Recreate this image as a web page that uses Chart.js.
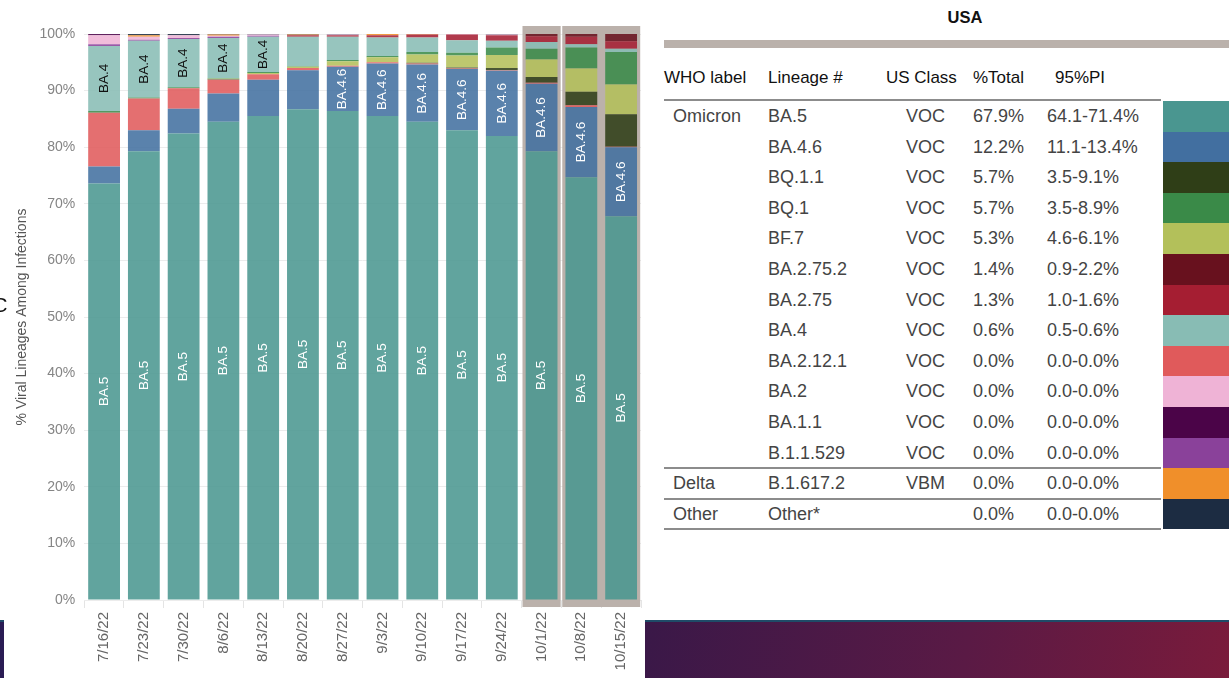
<!DOCTYPE html>
<html>
<head>
<meta charset="utf-8">
<script src="https://cdn.jsdelivr.net/npm/chart.js@4.4.0/dist/chart.umd.min.js"></script>
<style>
  body { margin: 0; width: 1229px; height: 678px; overflow: hidden; background: #fff;
         position: relative; font-family: "Liberation Sans", Arial, sans-serif; }
  #chartBox { position: absolute; left: 0; top: 0; width: 645px; height: 678px; }
  .t { position: absolute; white-space: nowrap; }
  .cell { position: absolute; white-space: nowrap; height: 30.6px; line-height: 30.6px; font-size: 18px; color: #444; }
  .hdr { position: absolute; white-space: nowrap; font-size: 17px; color: #111; top: 68px; }
  .rule { position: absolute; left: 664px; width: 497px; height: 2px; background: #8c8c8c; }
  .sw { position: absolute; left: 1163px; width: 66px; height: 30.6px; }
</style>
</head>
<body>
<div id="chartBox"><canvas id="chart1" width="645" height="678"></canvas></div>
<div class="t" style="left:-7px;top:294px;font-size:20px;color:#111;">C</div>
<div id="table"></div>
<div style="position:absolute;left:645px;top:620px;width:584px;height:58px;border-top:2px solid #1f4b68;background:linear-gradient(100deg,#3a1848 0%,#5a1a45 55%,#7a1b3b 100%);"></div>
<div style="position:absolute;left:0;top:620px;width:4px;height:58px;border-top:2px solid #1f4b68;background:#2a1c54;"></div>

<script>
// weekly proportions (%)
const weeks = ['7/16/22','7/23/22','7/30/22','8/6/22','8/13/22','8/20/22','8/27/22',
               '9/3/22','9/10/22','9/17/22','9/24/22','10/1/22','10/8/22','10/15/22'];
const ba5      = [73.6, 79.3, 82.4, 84.5, 85.5, 86.7, 86.4, 85.5, 84.5, 83.0, 82.0, 79.3, 74.7, 67.8];
const ba46     = [3.0, 3.7, 4.4, 5.0, 6.4, 6.9, 7.8, 9.3, 10.1, 10.8, 11.5, 11.9, 12.4, 12.2];
const ba2121   = [9.5, 5.6, 3.6, 2.4, 1.0, 0.4, 0.2, 0.2, 0.2, 0.1, 0.1, 0.2, 0.3, 0.1];
const bq11     = [0, 0, 0, 0.1, 0, 0, 0, 0, 0.1, 0.2, 0.4, 1.0, 2.4, 5.7];
const bf7      = [0, 0, 0, 0.1, 0.2, 0.2, 0.8, 0.9, 1.5, 2.1, 2.3, 3.1, 4.1, 5.3];
const bq1      = [0.3, 0.2, 0.2, 0.1, 0.2, 0.1, 0.2, 0.2, 0.4, 0.5, 1.3, 1.9, 3.7, 5.7];
const ba4      = [11.5, 10.0, 8.5, 7.1, 6.2, 5.2, 4.1, 3.3, 2.6, 2.2, 1.2, 1.2, 0.6, 0.6];
const ba275    = [0, 0, 0, 0, 0, 0.3, 0.3, 0.4, 0.5, 1.0, 1.0, 1.0, 1.3, 1.3];
const ba2752   = [0, 0, 0, 0, 0, 0, 0, 0, 0, 0, 0, 0.4, 0.5, 1.3];
const b11529   = [0.3, 0.2, 0.2, 0.2, 0.2, 0, 0, 0, 0, 0, 0, 0, 0, 0];
const ba2      = [1.6, 0.5, 0.5, 0.2, 0.2, 0, 0.1, 0, 0, 0.1, 0.1, 0, 0, 0];
const b16172   = [0, 0.3, 0, 0.2, 0, 0.1, 0, 0.2, 0.1, 0, 0, 0, 0, 0];
const ba11     = [0.2, 0, 0, 0, 0, 0, 0, 0, 0, 0, 0, 0, 0, 0];
const other    = [0, 0.2, 0.2, 0.1, 0.1, 0.1, 0.1, 0, 0, 0, 0.1, 0, 0, 0];

const yTicks = [0, 10, 20, 30, 40, 50, 60, 70, 80, 90, 100];

// table on the right (current week)
const whoLabels = ['Omicron','','','','','','','','','','','','Delta','Other'];
const lineages  = ['BA.5','BA.4.6','BQ.1.1','BQ.1','BF.7','BA.2.75.2','BA.2.75','BA.4','BA.2.12.1','BA.2','BA.1.1','B.1.1.529','B.1.617.2','Other*'];
const usClass   = ['VOC','VOC','VOC','VOC','VOC','VOC','VOC','VOC','VOC','VOC','VOC','VOC','VBM',''];
const pctTotal  = ['67.9%','12.2%','5.7%','5.7%','5.3%','1.4%','1.3%','0.6%','0.0%','0.0%','0.0%','0.0%','0.0%','0.0%'];
const pi95      = ['64.1-71.4%','11.1-13.4%','3.5-9.1%','3.5-8.9%','4.6-6.1%','0.9-2.2%','1.0-1.6%','0.5-0.6%','0.0-0.0%','0.0-0.0%','0.0-0.0%','0.0-0.0%','0.0-0.0%','0.0-0.0%'];

const colors = {
  'BA.5': '#4a9690', 'BA.4.6': '#426fa0', 'BQ.1.1': '#2f3e17', 'BQ.1': '#3a8a48',
  'BF.7': '#b3c05a', 'BA.2.75.2': '#68111e', 'BA.2.75': '#a51e32', 'BA.4': '#88bcb4',
  'BA.2.12.1': '#e05a5b', 'BA.2': '#efb3d6', 'BA.1.1': '#4b0448', 'B.1.1.529': '#8a419a',
  'B.1.617.2': '#f08f2a', 'Other*': '#1c2c42'
};

// bottom-to-top stacking
const stack = [
  ['BA.5', ba5], ['BA.4.6', ba46], ['BA.2.12.1', ba2121], ['BQ.1.1', bq11], ['BF.7', bf7],
  ['BQ.1', bq1], ['BA.4', ba4], ['BA.2.75', ba275], ['BA.2.75.2', ba2752], ['B.1.1.529', b11529],
  ['BA.2', ba2], ['B.1.617.2', b16172], ['BA.1.1', ba11], ['Other*', other]
];
const labelled = {'BA.5': '#fff', 'BA.4.6': '#fff', 'BA.4': '#111'};
const highlightGroups = [[11], [12, 13]];

function alpha(hex, a) {
  const n = parseInt(hex.slice(1), 16);
  return 'rgba(' + (n >> 16) + ',' + ((n >> 8) & 255) + ',' + (n & 255) + ',' + a + ')';
}

const highlight = {
  id: 'highlight',
  beforeDatasetsDraw(chart) {
    const {ctx, chartArea, scales: {x}} = chart;
    const step = x.getPixelForValue(1) - x.getPixelForValue(0);
    ctx.save();
    ctx.fillStyle = '#bbb1ab';
    highlightGroups.forEach(g => {
      const x0 = x.getPixelForValue(g[0]) - step / 2 + 0.8;
      const x1 = x.getPixelForValue(g[g.length - 1]) + step / 2 - 0.8;
      ctx.fillRect(x0, chartArea.top - 8, x1 - x0, chartArea.bottom - chartArea.top + 15);
    });
    ctx.restore();
  }
};

const segLabels = {
  id: 'segLabels',
  afterDatasetsDraw(chart) {
    const {ctx} = chart;
    ctx.save();
    ctx.font = '13.5px "Liberation Sans", Arial, sans-serif';
    ctx.textAlign = 'center';
    ctx.textBaseline = 'middle';
    chart.data.datasets.forEach((ds, i) => {
      const col = labelled[ds.label];
      if (!col) return;
      const tw = ctx.measureText(ds.label).width;
      chart.getDatasetMeta(i).data.forEach(bar => {
        const h = bar.base - bar.y;
        if (h < tw + 2) return;
        ctx.save();
        ctx.translate(bar.x, (bar.y + bar.base) / 2);
        ctx.rotate(-Math.PI / 2);
        ctx.fillStyle = col;
        ctx.fillText(ds.label, 0, 0);
        ctx.restore();
      });
    });
    ctx.restore();
  }
};

const ctx1 = document.getElementById('chart1').getContext('2d');
const chart1 = new Chart(ctx1, {
  type: 'bar',
  data: {
    labels: weeks,
    datasets: stack.map(([name, vals]) => ({
      label: name,
      data: vals,
      backgroundColor: alpha(colors[name], 0.87),
      borderWidth: 0,
      barPercentage: 0.8,
      categoryPercentage: 1.0
    }))
  },
  options: {
    responsive: false,
    animation: false,
    devicePixelRatio: 1,
    layout: { padding: { left: 11.6, right: 4, top: 34, bottom: 3.6 } },
    plugins: { legend: { display: false }, tooltip: { enabled: false } },
    scales: {
      x: {
        stacked: true,
        grid: { drawOnChartArea: false, color: '#e4e4e4', tickLength: 8 },
        border: { display: false },
        ticks: { color: '#666', font: { size: 15, family: '"Liberation Sans", Arial, sans-serif' },
                 minRotation: 90, maxRotation: 90, padding: 4, autoSkip: false }
      },
      y: {
        stacked: true,
        min: 0, max: 100,
        afterBuildTicks(axis) { axis.ticks = yTicks.map(v => ({value: v})); },
        grid: { color: '#ececec', drawTicks: false },
        border: { display: false },
        ticks: { color: '#858585', padding: 9, font: { size: 14, family: '"Liberation Sans", Arial, sans-serif' },
                 callback: v => v + '%' },
        title: { display: true, text: '% Viral Lineages Among Infections', color: '#555',
                 padding: { top: 2, bottom: 0 },
                 font: { size: 14, family: '"Liberation Sans", Arial, sans-serif' } }
      }
    }
  },
  plugins: [highlight, segLabels]
});

// build the table
const table = document.getElementById('table');
function add(cls, text, style) {
  const d = document.createElement('div');
  d.className = cls;
  d.textContent = text;
  d.setAttribute('style', style);
  table.appendChild(d);
  return d;
}
add('t', 'USA', 'left:940px;top:8px;width:50px;text-align:center;font-size:16.5px;font-weight:bold;color:#111;');
add('t', '', 'left:664px;top:40px;width:565px;height:8px;background:#bab1ab;');
add('hdr', 'WHO label', 'left:664px;');
add('hdr', 'Lineage #', 'left:768px;');
add('hdr', 'US Class', 'left:886px;');
add('hdr', '%Total', 'left:973px;');
add('hdr', '95%PI', 'left:1055px;');
const rowTop = 101, rowH = 30.6;
add('rule', '', 'top:' + (rowTop - 2) + 'px;');
lineages.forEach((name, i) => {
  const top = rowTop + i * rowH;
  if (whoLabels[i]) add('cell', whoLabels[i], 'left:673px;top:' + top + 'px;');
  add('cell', name, 'left:768px;top:' + top + 'px;');
  add('cell', usClass[i], 'left:906px;top:' + top + 'px;');
  add('cell', pctTotal[i], 'left:973px;top:' + top + 'px;');
  add('cell', pi95[i], 'left:1047px;top:' + top + 'px;');
  add('sw', '', 'top:' + top + 'px;background:' + colors[name] + ';');
});
[12, 13, 14].forEach(i => add('rule', '', 'top:' + (rowTop + i * rowH - 1) + 'px;'));
</script>
</body>
</html>
